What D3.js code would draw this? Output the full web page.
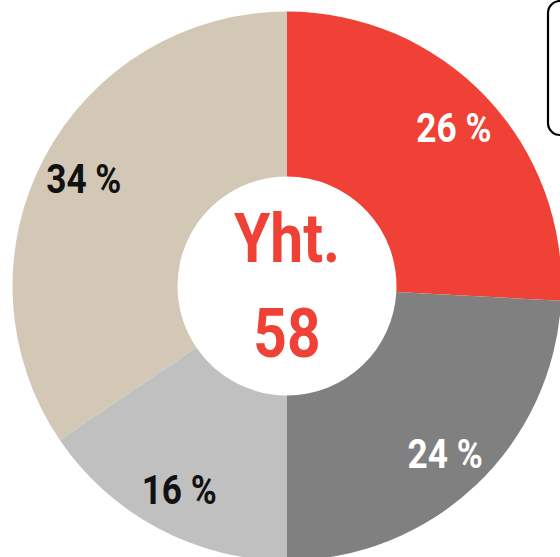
<!DOCTYPE html>
<html>
<head>
<meta charset="utf-8">
<script src="https://cdn.jsdelivr.net/npm/d3@7"></script>
<style>
  html, body { margin: 0; padding: 0; background: #fff; overflow: hidden; }
  svg { display: block; }
  text { font-family: Roboto, "Liberation Sans", sans-serif; font-weight: 700; }
</style>
</head>
<body>
<svg id="chart" width="560" height="557"></svg>
<script>
// Data
const categories = ["Luokka 1", "Luokka 2", "Luokka 3", "Luokka 4"];
const values = [15, 14, 9, 20];
const colors = ["#EF4136", "#808080", "#C0C0C0", "#D3C7B6"];
const labelColors = ["#ffffff", "#ffffff", "#111111", "#111111"];
const centerLabel = "Yht.";

const total = d3.sum(values);
const data = categories.map((c, i) => ({ name: c, value: values[i], color: colors[i], labelColor: labelColors[i] }));

const svg = d3.select("#chart");
const cx = 287, cy = 286;
const outerR = 274.5, innerR = 109.5, labelR = 230;

const pie = d3.pie().value(d => d.value).sort(null);
const arc = d3.arc().innerRadius(innerR).outerRadius(outerR);
const labelArc = d3.arc().innerRadius(labelR).outerRadius(labelR);

const g = svg.append("g").attr("transform", `translate(${cx},${cy})`);
const arcs = pie(data);

g.selectAll("path.slice")
  .data(arcs)
  .join("path")
  .attr("class", "slice")
  .attr("d", arc)
  .attr("fill", d => d.data.color);

g.selectAll("g.lbl")
  .data(arcs)
  .join("g")
  .attr("class", "lbl")
  .attr("transform", d => { const [x, y] = labelArc.centroid(d); return `translate(${x},${y}) scale(0.86,1)`; })
  .append("text")
  .attr("text-anchor", "middle")
  .attr("dy", "0.355em")
  .attr("font-size", 41)
  .attr("fill", d => d.data.labelColor)
  .text(d => `${Math.round(d.data.value / total * 100)} %`);

// Center text
g.append("g")
  .attr("transform", "translate(0,-24) scale(0.85,1)")
  .append("text")
  .attr("text-anchor", "middle")
  .attr("font-size", 69)
  .attr("fill", "#EF4136")
  .text(centerLabel);

g.append("g")
  .attr("transform", "translate(0,71) scale(0.85,1)")
  .append("text")
  .attr("text-anchor", "middle")
  .attr("font-size", 69)
  .attr("fill", "#EF4136")
  .text(total);

// Legend box (cut off at the right edge)
svg.append("rect")
  .attr("x", 548)
  .attr("y", 1)
  .attr("width", 60)
  .attr("height", 134)
  .attr("rx", 12)
  .attr("fill", "#fff")
  .attr("stroke", "#000")
  .attr("stroke-width", 2.2);
</script>
</body>
</html>
